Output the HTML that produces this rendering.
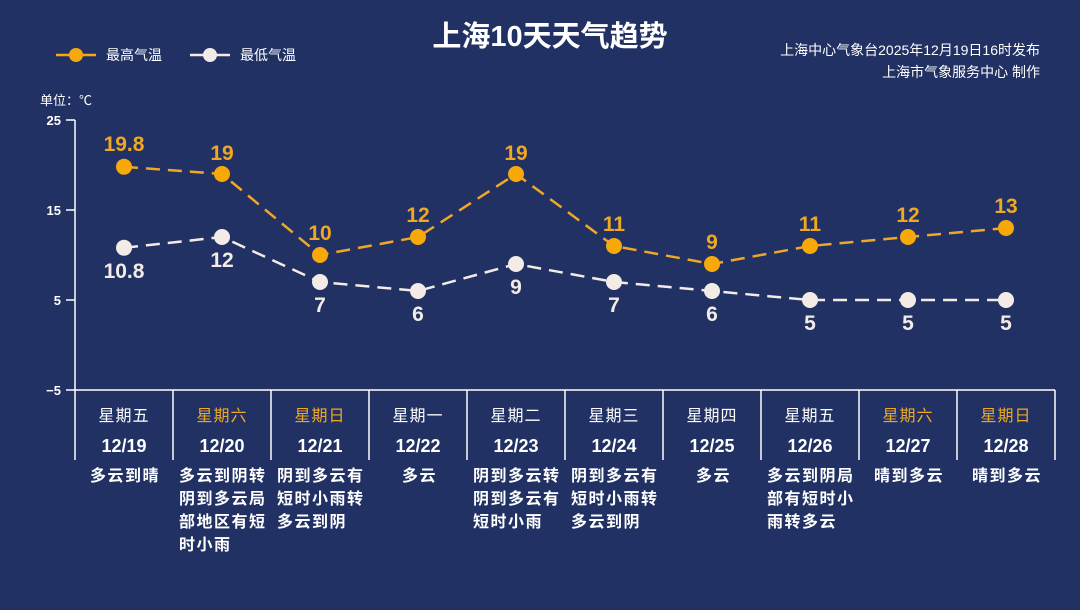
<!DOCTYPE html>
<html><head><meta charset="utf-8"><style>
html,body{margin:0;padding:0;background:#213164;}
svg{display:block;font-family:"Liberation Sans","Noto Sans CJK SC",sans-serif;}
</style></head><body>
<svg width="1080" height="610" viewBox="0 0 1080 610" xmlns="http://www.w3.org/2000/svg">
<rect width="1080" height="610" fill="#213164"/>
<text x="550" y="46" text-anchor="middle" font-size="29" font-weight="bold" fill="#fff">上海10天天气趋势</text>
<g font-size="14" fill="#fff">
<line x1="56" y1="55" x2="96" y2="55" stroke="#f5a90e" stroke-width="2.5"/>
<circle cx="76" cy="55" r="7" fill="#f5a90e"/>
<text x="106" y="60">最高气温</text>
<line x1="190" y1="55" x2="230" y2="55" stroke="#f3ece6" stroke-width="2.5"/>
<circle cx="210" cy="55" r="7" fill="#f3ece6"/>
<text x="240" y="60">最低气温</text>
<text x="1040" y="55" text-anchor="end">上海中心气象台2025年12月19日16时发布</text>
<text x="1040" y="77" text-anchor="end">上海市气象服务中心 制作</text>
<text x="40" y="105" font-size="13">单位：℃</text>
</g>
<g stroke="#fff" stroke-width="1.5" fill="none">
<line x1="75" y1="120" x2="75" y2="460"/>
<line x1="66" y1="390" x2="1055" y2="390"/>
<line x1="66" y1="120" x2="75" y2="120"/><line x1="66" y1="210" x2="75" y2="210"/><line x1="66" y1="300" x2="75" y2="300"/>
<line x1="173" y1="390" x2="173" y2="460"/><line x1="271" y1="390" x2="271" y2="460"/><line x1="369" y1="390" x2="369" y2="460"/><line x1="467" y1="390" x2="467" y2="460"/><line x1="565" y1="390" x2="565" y2="460"/><line x1="663" y1="390" x2="663" y2="460"/><line x1="761" y1="390" x2="761" y2="460"/><line x1="859" y1="390" x2="859" y2="460"/><line x1="957" y1="390" x2="957" y2="460"/><line x1="1055" y1="390" x2="1055" y2="460"/>
</g>
<g font-size="13" font-weight="bold" fill="#fff" text-anchor="end">
<text x="61" y="125">25</text><text x="61" y="215">15</text><text x="61" y="305">5</text><text x="61" y="395">−5</text>
</g>
<polyline points="124,166.8 222,174 320,255 418,237 516,174 614,246 712,264 810,246 908,237 1006,228" fill="none" stroke="#f0a824" stroke-width="2.5" stroke-dasharray="14,8"/>
<polyline points="124,247.8 222,237 320,282 418,291 516,264 614,282 712,291 810,300 908,300 1006,300" fill="none" stroke="#f3ece6" stroke-width="2.5" stroke-dasharray="14,8"/>
<g fill="#f7a90a">
<circle cx="124" cy="166.8" r="8"/><circle cx="222" cy="174" r="8"/><circle cx="320" cy="255" r="8"/><circle cx="418" cy="237" r="8"/><circle cx="516" cy="174" r="8"/><circle cx="614" cy="246" r="8"/><circle cx="712" cy="264" r="8"/><circle cx="810" cy="246" r="8"/><circle cx="908" cy="237" r="8"/><circle cx="1006" cy="228" r="8"/>
</g>
<g fill="#f3ece6">
<circle cx="124" cy="247.8" r="8"/><circle cx="222" cy="237" r="8"/><circle cx="320" cy="282" r="8"/><circle cx="418" cy="291" r="8"/><circle cx="516" cy="264" r="8"/><circle cx="614" cy="282" r="8"/><circle cx="712" cy="291" r="8"/><circle cx="810" cy="300" r="8"/><circle cx="908" cy="300" r="8"/><circle cx="1006" cy="300" r="8"/>
</g>
<g font-size="21" font-weight="bold" fill="#f0a824" text-anchor="middle">
<text x="124" y="151">19.8</text><text x="222" y="160">19</text><text x="320" y="240">10</text><text x="418" y="222">12</text><text x="516" y="160">19</text><text x="614" y="231">11</text><text x="712" y="249">9</text><text x="810" y="231">11</text><text x="908" y="222">12</text><text x="1006" y="213">13</text>
</g>
<g font-size="21" font-weight="bold" fill="#f3ece6" text-anchor="middle">
<text x="124" y="278">10.8</text><text x="222" y="267">12</text><text x="320" y="312">7</text><text x="418" y="321">6</text><text x="516" y="294">9</text><text x="614" y="312">7</text><text x="712" y="321">6</text><text x="810" y="330">5</text><text x="908" y="330">5</text><text x="1006" y="330">5</text>
</g>
<g font-size="16" text-anchor="middle" fill="#fff" letter-spacing="1">
<text x="124" y="421">星期五</text><text x="222" y="421" fill="#f0a824">星期六</text><text x="320" y="421" fill="#f0a824">星期日</text><text x="418" y="421">星期一</text><text x="516" y="421">星期二</text><text x="614" y="421">星期三</text><text x="712" y="421">星期四</text><text x="810" y="421">星期五</text><text x="908" y="421" fill="#f0a824">星期六</text><text x="1006" y="421" fill="#f0a824">星期日</text>
</g>
<g font-size="18" font-weight="bold" text-anchor="middle" fill="#fff">
<text x="124" y="452">12/19</text><text x="222" y="452">12/20</text><text x="320" y="452">12/21</text><text x="418" y="452">12/22</text><text x="516" y="452">12/23</text><text x="614" y="452">12/24</text><text x="712" y="452">12/25</text><text x="810" y="452">12/26</text><text x="908" y="452">12/27</text><text x="1006" y="452">12/28</text>
</g>
<g font-size="16" font-weight="bold" fill="#fff" letter-spacing="1.5">
<text x="90" y="481">多云到晴</text>
<text x="179" y="481">多云到阴转</text><text x="179" y="504">阴到多云局</text><text x="179" y="527">部地区有短</text><text x="179" y="550">时小雨</text>
<text x="277" y="481">阴到多云有</text><text x="277" y="504">短时小雨转</text><text x="277" y="527">多云到阴</text>
<text x="402" y="481">多云</text>
<text x="473" y="481">阴到多云转</text><text x="473" y="504">阴到多云有</text><text x="473" y="527">短时小雨</text>
<text x="571" y="481">阴到多云有</text><text x="571" y="504">短时小雨转</text><text x="571" y="527">多云到阴</text>
<text x="696" y="481">多云</text>
<text x="767" y="481">多云到阴局</text><text x="767" y="504">部有短时小</text><text x="767" y="527">雨转多云</text>
<text x="874" y="481">晴到多云</text>
<text x="972" y="481">晴到多云</text>
</g>
</svg>
</body></html>
